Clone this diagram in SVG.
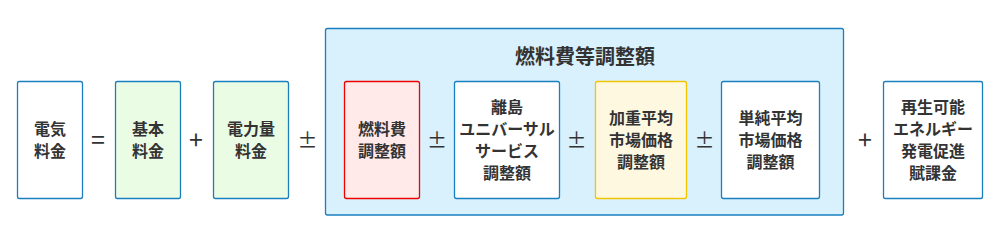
<svg xmlns="http://www.w3.org/2000/svg" width="1000" height="242" viewBox="0 0 1000 242">
<style>
.bx{fill:#ffffff;stroke:#1a7fbf;stroke-width:1.3}
.gr{fill:#ebfce4}
.rd{fill:#ffe9e9;stroke:#f00000}
.yl{fill:#fff8e1;stroke:#f2c500}
.ct{fill:#d9f0fd;stroke:#1a7fbf;stroke-width:1.3}
text{font-family:"Noto Sans CJK JP","Noto Sans",sans-serif;fill:#333333;text-anchor:middle}
.t{font-size:16px;font-weight:700}
.h{font-size:20px;font-weight:700}
.op{font-size:20px;font-weight:400}
.op2{font-size:25px;font-weight:400}
</style>
<rect width="1000" height="242" fill="#ffffff"/>
<g id="container">
<rect class="ct" x="325.5" y="28.5" width="518" height="186.5" rx="2"/>
<text class="h" x="585" y="64">燃料費等調整額</text>
</g>
<g id="denki">
<rect class="bx" x="17.5" y="81.5" width="65" height="117" rx="2"/>
<text class="t" x="50" y="135">電気</text>
<text class="t" x="50" y="157">料金</text>
</g>
<g id="kihon">
<rect class="bx gr" x="115.5" y="81.5" width="65" height="117" rx="2"/>
<text class="t" x="148" y="135">基本</text>
<text class="t" x="148" y="157">料金</text>
</g>
<g id="denryoku">
<rect class="bx gr" x="213.5" y="81.5" width="75" height="117" rx="2"/>
<text class="t" x="251" y="135">電力量</text>
<text class="t" x="251" y="157">料金</text>
</g>
<g id="nenryo">
<rect class="bx rd" x="344.5" y="81.5" width="75" height="117" rx="2"/>
<text class="t" x="382" y="135">燃料費</text>
<text class="t" x="382" y="157">調整額</text>
</g>
<g id="ritou">
<rect class="bx" x="454.5" y="81.5" width="105" height="117" rx="2"/>
<text class="t" x="507" y="113">離島</text>
<text class="t" x="507" y="135">ユニバーサル</text>
<text class="t" x="507" y="157">サービス</text>
<text class="t" x="507" y="179">調整額</text>
</g>
<g id="kajuu">
<rect class="bx yl" x="595.5" y="81.5" width="91" height="117" rx="2"/>
<text class="t" x="641" y="124">加重平均</text>
<text class="t" x="641" y="146">市場価格</text>
<text class="t" x="641" y="168">調整額</text>
</g>
<g id="tanjun">
<rect class="bx" x="721.5" y="81.5" width="98" height="117" rx="2"/>
<text class="t" x="770.5" y="124">単純平均</text>
<text class="t" x="770.5" y="146">市場価格</text>
<text class="t" x="770.5" y="168">調整額</text>
</g>
<g id="saisei">
<rect class="bx" x="883.5" y="81.5" width="99" height="117" rx="2"/>
<text class="t" x="933" y="113">再生可能</text>
<text class="t" x="933" y="135">エネルギー</text>
<text class="t" x="933" y="157">発電促進</text>
<text class="t" x="933" y="179">賦課金</text>
</g>
<g id="connectors">
<text class="op2" x="98" y="149">=</text>
<text class="op2" x="196" y="149">+</text>
<text class="op" x="307.5" y="148">±</text>
<text class="op" x="437" y="148">±</text>
<text class="op" x="576.5" y="148">±</text>
<text class="op" x="704.5" y="148">±</text>
<text class="op2" x="865" y="149">+</text>
</g>
</svg>
